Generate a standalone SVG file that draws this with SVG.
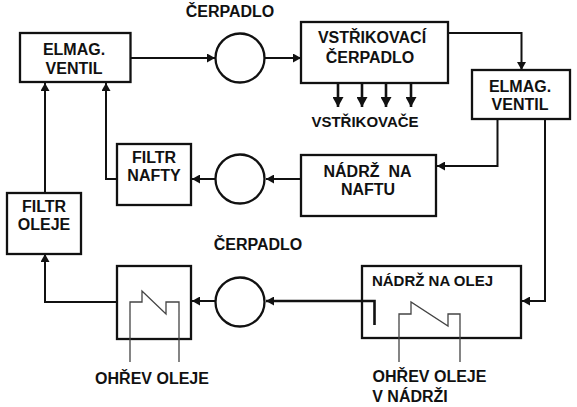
<svg xmlns="http://www.w3.org/2000/svg" width="577" height="407" viewBox="0 0 577 407">
<style>
.b{fill:#fff;stroke:#111;stroke-width:2.300}
.n{fill:none;stroke:#111;stroke-width:2.300}
.c{fill:none;stroke:#111;stroke-width:2}
.t{fill:none;stroke:#111;stroke-width:2.600}
.h{fill:none;stroke:#444;stroke-width:1.300}
text{font-family:"Liberation Sans",Arial,sans-serif;font-weight:bold;font-size:16px;fill:#111;text-anchor:middle}
.s{font-size:15px}
</style>
<defs>
<marker id="a" markerUnits="userSpaceOnUse" markerWidth="9" markerHeight="9" refX="8" refY="4.500" orient="auto"><path d="M0 0L8 4.500L0 9Z" fill="#111"/></marker>
<marker id="d" markerUnits="userSpaceOnUse" markerWidth="11" markerHeight="11" refX="10" refY="5.500" orient="auto"><path d="M0 0L10 5.500L0 11Z" fill="#111"/></marker>
</defs>
<rect width="577" height="407" fill="#fff"/>
<g id="connectors">
<path class="c" d="M131 58H215" marker-end="url(#a)"/>
<path class="c" d="M265 58H301" marker-end="url(#a)"/>
<path class="c" d="M448 33H521.500V70" marker-end="url(#a)"/>
<path class="t" d="M338 83V107" marker-end="url(#d)"/>
<path class="t" d="M362 83V107" marker-end="url(#d)"/>
<path class="t" d="M386 83V107" marker-end="url(#d)"/>
<path class="t" d="M411 83V107" marker-end="url(#d)"/>
<path class="c" d="M497.500 119V166H437" marker-end="url(#a)"/>
<path class="c" d="M301 179H266" marker-end="url(#a)"/>
<path class="c" d="M215 179H192" marker-end="url(#a)"/>
<path class="c" d="M117 179H106V83" marker-end="url(#a)"/>
<path class="c" d="M45 193V83" marker-end="url(#a)"/>
<path class="c" d="M117 302H45V254" marker-end="url(#a)"/>
<path class="c" d="M215 301H192" marker-end="url(#a)"/>
<path class="c" d="M545 119V301H522" marker-end="url(#a)"/>
<path class="t" d="M374.500 325V301H266" marker-end="url(#a)"/>
</g>
<g id="elmag1"><rect class="b" x="20" y="33" width="110.500" height="49"/><text x="74" y="55">ELMAG.</text><text x="74" y="74">VENTIL</text></g>
<g id="pump1"><circle class="b" cx="240" cy="58" r="24.500"/></g>
<text id="label-pump1" x="230" y="17">ČERPADLO</text>
<g id="vstrikovaci"><rect class="b" x="301" y="22" width="147" height="61"/><text x="372" y="43">VSTŘIKOVACÍ</text><text x="370" y="63">ČERPADLO</text></g>
<text id="label-vstrikovace" class="s" x="365" y="127">VSTŘIKOVAČE</text>
<g id="elmag2"><rect class="b" x="472" y="70" width="98" height="49"/><text x="520" y="92">ELMAG.</text><text x="520" y="110">VENTIL</text></g>
<g id="nadrz-nafta"><rect class="b" x="301" y="155" width="135" height="61"/><text x="367.500" y="177" xml:space="preserve">NÁDRŽ  NA</text><text x="368" y="195">NAFTU</text></g>
<g id="pump2"><circle class="b" cx="240" cy="179" r="24.500"/></g>
<g id="filtr-nafty"><rect class="b" x="117" y="144" width="74" height="61"/><text x="154" y="163">FILTR</text><text x="154" y="181">NAFTY</text></g>
<g id="filtr-oleje"><rect class="b" x="7" y="193" width="74" height="61"/><text x="44" y="212">FILTR</text><text x="44" y="230">OLEJE</text></g>
<text id="label-pump3" x="258" y="250">ČERPADLO</text>
<g id="ohrev"><rect class="b" x="117" y="266" width="74" height="73"/><path class="h" d="M130 362V302H142V291L166 314V302H179V362"/></g>
<text id="label-ohrev" x="152" y="384">OHŘEV OLEJE</text>
<g id="pump3"><circle class="b" cx="240" cy="302" r="24.500"/></g>
<g id="nadrz-olej"><rect class="n" x="362" y="266" width="159" height="72"/><text class="s" x="432.500" y="286">NÁDRŽ NA OLEJ</text><path class="h" d="M399 362V314H411V302L448 326V314H460V362"/></g>
<text id="label-ohrev2" x="429.500" y="382">OHŘEV OLEJE</text>
<text id="label-ohrev3" x="410" y="402">V NÁDRŽI</text>
</svg>
